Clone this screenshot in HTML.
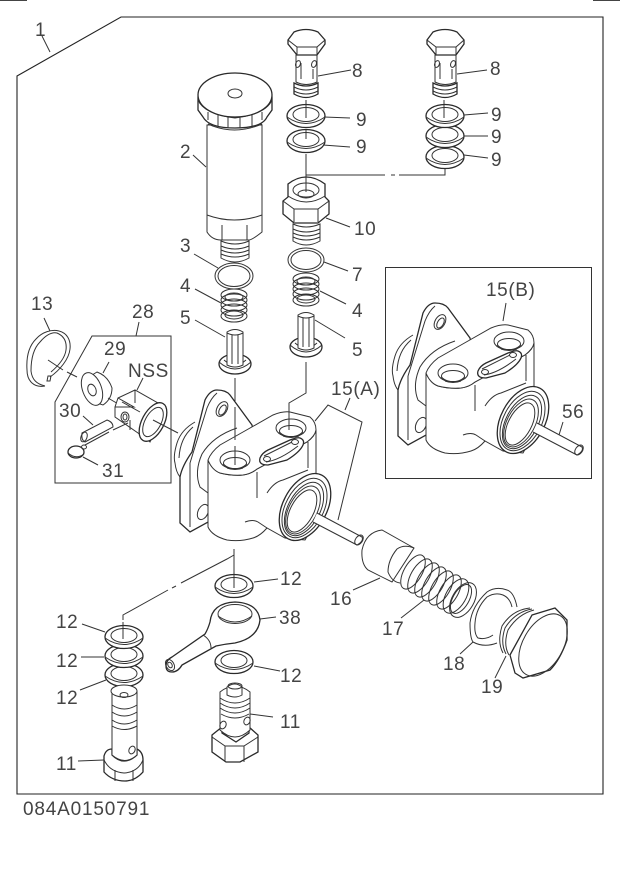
<!DOCTYPE html>
<html><head><meta charset="utf-8"><style>
html,body{margin:0;padding:0;background:#fff;width:620px;height:873px;overflow:hidden}
svg{display:block}
text{font-family:"Liberation Sans",sans-serif;font-size:19px;fill:#444;letter-spacing:.6px}
.s{fill:none;stroke:#333;stroke-width:1}
.f{fill:#fff;stroke:#333;stroke-width:1}
.h{fill:#fff;stroke:#2a2a2a;stroke-width:1.3}
</style></head><body>
<svg width="620" height="873" viewBox="0 0 620 873" xmlns="http://www.w3.org/2000/svg">
<defs>
<g id="washer"><ellipse class="h" cx="0" cy="0" rx="19" ry="11.500"/><path class="s" d="M-19,1 Q0,14 19,1"/><ellipse class="s" cx="0" cy="-1.500" rx="13" ry="7"/></g>
<g id="bolt">
<path class="f" d="M-10,22 V49 Q0,54 11,49 V22Z"/>
<path class="h" d="M-12,50 V61 Q0,68 12,61 V50 Q0,56 -12,50Z"/>
<path class="s" d="M-12,54 Q0,60 12,54 M-12,58 Q0,64 12,58"/>
<path class="h" d="M-18,7 L-12,-1 Q0,-6 12,-1 L19,7 V11 L11,22 H-9 L-18,11Z"/>
<path class="s" d="M-18,7 L-9,14 H11 L19,7 M-9,14 V22 M11,14 V22"/>
<ellipse class="s" cx="-8" cy="31" rx="2.300" ry="3.500" transform="rotate(20 -8 31)"/><ellipse class="s" cx="8" cy="31" rx="2.300" ry="3.500" transform="rotate(20 8 31)"/>
<path class="s" d="M-5,30 V46 M7,36 V46"/>
</g>
<g id="spring">
<ellipse class="s" cx="0" cy="-11" rx="13" ry="6"/><ellipse class="s" cx="0" cy="-6" rx="13" ry="6"/><ellipse class="s" cx="0" cy="-1" rx="13" ry="6"/><ellipse class="s" cx="0" cy="4" rx="13" ry="6"/><ellipse class="s" cx="0" cy="10" rx="13" ry="6"/><ellipse class="s" cx="0" cy="-9" rx="9" ry="4"/><ellipse class="s" cx="0" cy="9" rx="9" ry="4"/>
</g>
<g id="valve">
<ellipse class="h" cx="0" cy="22" rx="16" ry="10"/><path class="s" d="M-16,20 Q0,34 16,20 M-11,18 Q0,28 11,18"/>
<path class="f" d="M-8,-10 Q0,-15 8,-10 V23 Q0,27 -8,23Z"/>
<path class="s" d="M-8,-9 Q0,-5 8,-9 M-3,-7 V22 M3,-7 V22"/>
</g>
<g id="body">
<path class="s" d="M-13,6 Q-27,14 -31,27 Q-35,40 -33,47 Q-32,56 -28,61"/>
<path class="s" d="M-15,11 Q-28,22 -29,42"/>
<path class="h" d="M-28,107 V61 Q-26,50 -16,36 L-3,-16 Q2,-26 9,-26 Q18,-26 22,-21 L44,9 L48,30 L20,110 L0,106 L-18,116Z"/>
<path class="s" d="M-18,47 V111 M-18,47 L-1,-8 Q3,-18 9,-23"/>
<path class="s" d="M29,12 Q5,20 -6,38 Q-14,56 -8,71 L0,77"/>
<ellipse class="s" cx="14" cy="-7" rx="5" ry="8" transform="rotate(30 14 -7)"/><ellipse class="s" cx="14.500" cy="-6" rx="3" ry="5.500" transform="rotate(30 14.500 -6)"/>
<ellipse class="s" cx="-5" cy="96" rx="5" ry="8" transform="rotate(25 -5 96)"/>
<path class="f" d="M0,44 Q4,54 12,57 Q24,60 35,59 Q43,58 49,53 L99,26 Q107,20 108,14 V61 Q120,84 97,124 L77,122 L59,112 Q52,120 45,122 Q32,126 19,124 Q4,120 0,111Z"/>
<path class="f" d="M0,44 Q3,36 12,29 L35,16 L65,-1 Q75,-5 82,-4 L102,1 Q108,6 108,14 Q107,20 99,26 L49,53 Q43,58 35,59 Q24,60 12,57 Q4,54 0,44Z"/>
<path class="s" d="M100,26 V52 M49,56 V82 M59,77 Q66,66 75,64 L100,54 M37,106 Q45,103 50,106 L59,112"/>
<ellipse class="s" cx="27" cy="44" rx="15" ry="9"/><ellipse class="s" cx="27" cy="47" rx="11.500" ry="5.500"/><path class="s" d="M15,48 Q27,58 39,48 M19,52 Q27,55 35,52"/>
<ellipse class="s" cx="83" cy="12" rx="15" ry="9"/><ellipse class="s" cx="83" cy="15" rx="11.500" ry="5.500"/><path class="s" d="M71,16 Q83,26 95,16 M75,20 Q83,23 91,20"/>
<path class="h" d="M52,42 Q54,37 60,34 L82,24 Q90,21 92,22 Q97,24 95,29 Q92,36 79,44 L60,49 Q50,49 52,42Z"/>
<path class="s" d="M58,46 Q72,44 90,30 M56,40 L84,26"/>
<ellipse class="s" cx="59" cy="43" rx="3.500" ry="2.500"/><ellipse class="s" cx="87" cy="26" rx="3.500" ry="2.500"/>
<ellipse class="h" cx="97" cy="91" rx="22" ry="36" transform="rotate(28 97 91)"/>
<ellipse class="s" cx="96.500" cy="92" rx="19" ry="32" transform="rotate(28 96.500 92)"/>
<ellipse class="s" cx="96" cy="93" rx="16" ry="29" transform="rotate(28 96 93)"/>
<ellipse class="s" cx="95" cy="94" rx="14" ry="26" transform="rotate(28 95 94)"/>
<ellipse class="s" cx="94" cy="95" rx="11.500" ry="23" transform="rotate(28 94 95)"/>
</g>
<g id="pin">
<path class="f" d="M0,0 L45,24 Q47,28 40,32 L-4,9"/>
<ellipse class="s" cx="42" cy="27" rx="3.500" ry="5.500" transform="rotate(35 42 27)"/>
</g>
</defs>
<rect width="620" height="873" fill="#fff"/>
<path d="M0,0.5H27M593,0.5H620" stroke="#444" stroke-width="1"/>
<path d="M17,76 L121,17 H603 V794 H17Z" fill="none" stroke="#222" stroke-width="1.1"/>
<path class="s" d="M42,36 L50,52"/>

<!-- 15(A) backing plate -->
<path class="s" d="M315,421 L328,405 L362,422 L338,520 M345,410 L350,398"/>
<!-- main body -->
<g transform="translate(208,416)"><use href="#body"/></g>
<use href="#pin" transform="translate(317,513)"/>
<path class="s" d="M235,378 V401 M235,407 V440 M235,446 V465"/>
<path class="s" d="M306,362 V393 L289,403 V430"/>

<!-- filter 2 -->
<path class="f" d="M207,125 V222 Q234,234 262,222 V125Z"/>
<path class="f" d="M207,215 Q234,225 262,215 V232 Q252,240 249,240 H221 Q212,240 207,232Z"/>
<path class="s" d="M222,225 V240 M247,225 V240"/>
<path class="f" d="M221,241 Q235,247 249,241 V258 Q235,266 221,258Z"/>
<path class="s" d="M221,246 Q235,252 249,246 M221,250 Q235,256 249,250 M221,254 Q235,260 249,254"/>
<path class="h" d="M198,97 V110 L203,117 Q209,128 235,128 Q262,128 267,117 L272,110 V97 Z"/>
<path class="s" d="M208,120 V112 M218,126 V114 M228,128 V116 M240,128 V116 M252,126 V114 M262,120 V112 M198,100 Q204,114 235,118 Q266,114 272,100"/>
<path class="s" d="M208,124 Q234,136 262,124"/>
<ellipse class="h" cx="235" cy="95" rx="37" ry="22"/>
<ellipse class="s" cx="235" cy="93.500" rx="7" ry="4.500"/>
<path class="s" d="M193,155 L206,167"/>
<ellipse class="f" cx="234" cy="276" rx="19" ry="13"/><ellipse class="s" cx="234" cy="276" rx="16" ry="10.500"/>
<path class="s" d="M194,254 L218,268"/>
<use href="#spring" transform="translate(234,306)"/>
<path class="s" d="M195,289 L221,303"/>
<use href="#valve" transform="translate(235,342)"/>
<path class="s" d="M195,320 L225,337"/>

<!-- left stack -->
<use href="#bolt" transform="translate(306,33)"/>
<path class="s" d="M318,76 L351,70"/>
<use href="#washer" transform="translate(306,116)"/>
<use href="#washer" transform="translate(306,141)"/>
<path class="s" d="M306,100 V118 M306,130 V139 M324,117 L350,118 M323,145 L350,147"/>
<path class="h" d="M288,184 Q306,170 325,184 V197 L329,201 L329,214 L318,223 H294 L283,214 V201 L288,197Z"/>
<path class="s" d="M283,201 L294,209 H318 L329,201 M294,209 V222 M318,209 V222 M288,196 Q306,208 325,196"/>
<ellipse class="s" cx="306" cy="190" rx="13" ry="7"/><ellipse class="s" cx="306" cy="194" rx="8" ry="4"/>
<path class="s" d="M306,154 V192 M306,175 H385 M391,175 H395 M399,175 H445 V166"/>
<path class="f" d="M293,224 Q306,230 320,224 V241 Q306,249 293,241Z"/>
<path class="s" d="M293,229 Q306,235 320,229 M293,233 Q306,239 320,233 M293,237 Q306,243 320,237"/>
<path class="s" d="M326,218 L350,227"/>
<ellipse class="f" cx="306" cy="260" rx="18" ry="12"/><ellipse class="s" cx="306" cy="260" rx="15" ry="9.500"/>
<path class="s" d="M324,262 L348,271"/>
<use href="#spring" transform="translate(306,290)"/>
<path class="s" d="M320,291 L346,304"/>
<use href="#valve" transform="translate(306,325)"/>
<path class="s" d="M315,320 L345,338"/>

<!-- right stack -->
<use href="#bolt" transform="translate(445,33)"/>
<path class="s" d="M457,74 L487,70"/>
<use href="#washer" transform="translate(445,157)"/>
<use href="#washer" transform="translate(445,136)"/>
<use href="#washer" transform="translate(445,116)"/>
<path class="s" d="M444,100 V118 M464,115 L488,113 M464,136 L488,136 M464,155 L488,158"/>

<!-- inset -->
<rect x="385.500" y="267.500" width="206" height="211" class="s"/>
<g transform="translate(426,329)"><use href="#body"/></g>
<use href="#pin" transform="translate(537,423)"/>
<path class="s" d="M503,321 L506,303 M559,435 L563,422"/>

<!-- ring 13 -->
<path class="s" d="M45,386 C34,388 27,381 27,370 C26,355 30,345 36,339 C42,332 52,329 59,331 C67,333 71,340 70,349 C69,359 60,370 50,377"/>
<path class="s" d="M45,386 C37,384 32,380 31,371 C31,358 34,348 40,342 C46,335 52,332 57,333 C64,336 67,342 66,350 C65,358 58,366 51,372"/>
<path class="s" d="M47,381 L48,376 L51,376 L50,381Z M44,318 L50,331 M48,360 L63,370 M67,372 L77,377"/>

<!-- box 28 -->
<path class="s" d="M92,336 H171 V483 H55 V402Z M136,336 L139,322"/>
<path class="s" d="M109,362 L103,373"/>
<path class="f" d="M97,372 Q108,376 112,388 Q112,399 103,405 L97,403 L84,380Z"/>
<ellipse class="f" cx="92" cy="389" rx="9.500" ry="17" transform="rotate(-20 92 389)"/>
<ellipse class="s" cx="92" cy="390" rx="4" ry="6" transform="rotate(-20 92 390)"/>
<path class="s" d="M108,398 L120,405"/>
<!-- NSS barrel -->
<path class="s" d="M143,378 L137,390"/>
<path class="f" d="M118,398 L135,390 L165,407 L150,442 L138,433 L115,417 V407Z"/>
<path class="s" d="M135,390 V403 M118,398 L134,407 L115,407 M130,420 V430 M122,402 L140,412"/>
<ellipse class="s" cx="125" cy="417" rx="4" ry="5"/><ellipse class="s" cx="125" cy="417" rx="2" ry="3"/>
<ellipse class="h" cx="153" cy="422" rx="11" ry="21" transform="rotate(28 153 422)"/><ellipse class="s" cx="153" cy="422" rx="8" ry="16" transform="rotate(28 153 422)"/>
<path class="s" d="M153,420 L178,433"/>
<path class="f" d="M82,433 L107,420 Q113,422 113,427 L85,442 Q81,440 82,433Z"/>
<ellipse class="s" cx="84" cy="437" rx="3" ry="5" transform="rotate(20 84 437)"/>
<path class="s" d="M83,416 L93,425 M85,445 L109,432 M113,430 L128,423"/>
<ellipse class="h" cx="76" cy="452" rx="8" ry="6"/><path class="s" d="M68,453 Q76,460 84,454"/><ellipse class="s" cx="84" cy="447" rx="2.500" ry="2"/>
<path class="s" d="M83,457 L98,465"/>

<!-- 16 sleeve -->
<path class="f" d="M382,530 Q366,532 362,550 Q361,564 368,570 L392,582 L414,548Z"/>
<path class="s" d="M414,548 Q404,544 397,549 Q388,560 388,572 Q392,582 400,583"/>
<path class="s" d="M380,578 L353,590"/>
<!-- spring 17 -->
<ellipse class="s" cx="413" cy="572" rx="9" ry="19" transform="rotate(30 413 572)"/>
<ellipse class="s" cx="420" cy="576" rx="9" ry="19" transform="rotate(30 420 576)"/>
<ellipse class="s" cx="427" cy="580" rx="9" ry="19" transform="rotate(30 427 580)"/>
<ellipse class="s" cx="434" cy="584" rx="9" ry="19" transform="rotate(30 434 584)"/>
<ellipse class="s" cx="441" cy="588" rx="9" ry="19" transform="rotate(30 441 588)"/>
<ellipse class="s" cx="449" cy="592" rx="9" ry="19" transform="rotate(30 449 592)"/>
<ellipse class="s" cx="456" cy="596" rx="10" ry="19" transform="rotate(30 456 596)"/>
<ellipse class="s" cx="463" cy="600" rx="11" ry="19" transform="rotate(30 463 600)"/>
<ellipse class="s" cx="461" cy="599" rx="8" ry="16" transform="rotate(30 461 599)"/>
<path class="s" d="M424,600 L401,618"/>
<!-- 18 ring -->
<path class="s" d="M517,607 Q514,592 507,590 Q496,586 487,592 Q472,606 470,623 Q470,638 473,642 Q484,648 497,643"/>
<path class="s" d="M512,607 Q510,598 503,595 Q495,592 487,597 Q476,608 475,623 Q474,634 478,638 Q486,640 493,635"/>
<path class="s" d="M473,642 L460,654"/>
<!-- 19 plug -->
<path class="s" d="M530,608 Q512,610 502,626 Q497,642 503,653"/>
<path class="s" d="M532,609 Q515,612 505,628 Q500,643 506,654"/>
<path class="s" d="M534,610 Q518,614 508,630 Q503,645 509,655"/>
<path class="h" d="M532,615 L555,608 L567,620 V640 Q560,660 550,670 L523,678 L515,673 L510,655Z"/>
<ellipse class="s" cx="543" cy="645" rx="20" ry="34" transform="rotate(30 543 645)"/>
<path class="s" d="M506,656 L495,678"/>

<!-- bottom left -->
<path class="s" d="M234,549 V578 M123,620 V615 L168,590 M172,588 L176,586 M181,583 L227,559 L234,555"/>
<use href="#washer" transform="translate(234,586)"/>
<path class="s" d="M234,570 V588 M254,582 L278,579"/>
<!-- 38 -->
<path class="h" d="M172,657 L205,634 Q208,629 210,622 Q212,603 235,602 Q258,603 260,620 Q258,638 235,643 Q225,644 216,646 L182,665 Q178,672 172,672 Q166,672 166,666 Q166,660 172,657Z"/>
<path class="s" d="M203,635 Q211,640 211,648"/>
<ellipse class="s" cx="170" cy="665" rx="4" ry="6" transform="rotate(-30 170 665)"/><ellipse class="s" cx="170" cy="665" rx="2" ry="3" transform="rotate(-30 170 665)"/>
<ellipse class="s" cx="235" cy="614" rx="17" ry="9.500"/><path class="s" d="M218,616 Q235,628 252,616"/>
<path class="s" d="M260,619 L276,617"/>
<use href="#washer" transform="translate(234,662)"/>
<path class="s" d="M254,666 L280,671"/>
<!-- 12 left stack -->
<use href="#washer" transform="translate(124,675)"/>
<use href="#washer" transform="translate(124,656)"/>
<use href="#washer" transform="translate(124,637)"/>
<path class="s" d="M123,622 V639 M82,624 L105,632 M81,657 L104,657 M80,690 L106,680"/>
<!-- 11 left -->
<path class="h" d="M104,756 Q106,749 112,749 V755 Q124,767 137,755 V749 Q143,752 143,760 V772 Q135,781 125,781 Q112,781 104,772Z"/>
<path class="s" d="M104,760 Q110,772 124,773 Q138,772 143,760 M115,770 V781 M133,770 V781"/>
<path class="f" d="M112,691 Q125,682 137,691 V755 Q125,766 112,755Z"/>
<ellipse class="f" cx="124" cy="691" rx="13" ry="6"/><ellipse class="s" cx="124" cy="695" rx="4" ry="2.500"/>
<path class="s" d="M112,705 Q124,713 137,705 M112,712 Q124,720 137,712 M112,720 Q124,728 137,720 M112,726 Q124,733 137,726"/>
<ellipse class="s" cx="132" cy="750" rx="3" ry="4" transform="rotate(25 132 750)"/>
<path class="s" d="M78,761 L104,760"/>
<!-- 11 right -->
<path class="h" d="M212,735 L222,727 V733 L236,742 L249,733 V727 L258,735 V752 L240,762 H226 L212,752Z"/>
<path class="s" d="M212,737 L225,746 H244 L258,737 M225,746 V762 M244,746 V762"/>
<path class="f" d="M220,692 Q235,680 250,692 V730 Q235,744 220,730Z"/>
<path class="s" d="M220,698 Q235,708 250,698 M220,703 Q235,713 250,703 M220,708 Q235,718 250,708 M221,714 Q235,722 249,714"/>
<path class="f" d="M227,687 Q235,681 242,687 V695 Q235,699 227,695Z"/><ellipse class="s" cx="235" cy="686" rx="7" ry="3"/>
<ellipse class="s" cx="223" cy="725" rx="3" ry="4" transform="rotate(25 223 725)"/><ellipse class="s" cx="247" cy="721" rx="3" ry="4" transform="rotate(25 247 721)"/>
<path class="s" d="M250,714 L273,717"/>

<!-- labels -->
<text x="35" y="36">1</text>
<text x="180" y="158">2</text>
<text x="180" y="252">3</text>
<text x="180" y="292">4</text>
<text x="180" y="324">5</text>
<text x="352" y="77">8</text>
<text x="490" y="75">8</text>
<text x="356" y="126">9</text>
<text x="356" y="153">9</text>
<text x="491" y="121">9</text>
<text x="491" y="143">9</text>
<text x="491" y="166">9</text>
<text x="354" y="235">10</text>
<text x="352" y="281">7</text>
<text x="352" y="317">4</text>
<text x="352" y="356">5</text>
<text x="31" y="310">13</text>
<text x="132" y="318">28</text>
<text x="104" y="355">29</text>
<text x="128" y="377">NSS</text>
<text x="59" y="417">30</text>
<text x="102" y="477">31</text>
<text x="331" y="395">15(A)</text>
<text x="486" y="296">15(B)</text>
<text x="562" y="418">56</text>
<text x="280" y="585">12</text>
<text x="279" y="624">38</text>
<text x="280" y="682">12</text>
<text x="280" y="728">11</text>
<text x="56" y="628">12</text>
<text x="56" y="667">12</text>
<text x="56" y="704">12</text>
<text x="56" y="770">11</text>
<text x="330" y="605">16</text>
<text x="382" y="635">17</text>
<text x="443" y="670">18</text>
<text x="481" y="693">19</text>
<text x="23" y="815" textLength="127" lengthAdjust="spacing">084A0150791</text>
</svg>
</body></html>
